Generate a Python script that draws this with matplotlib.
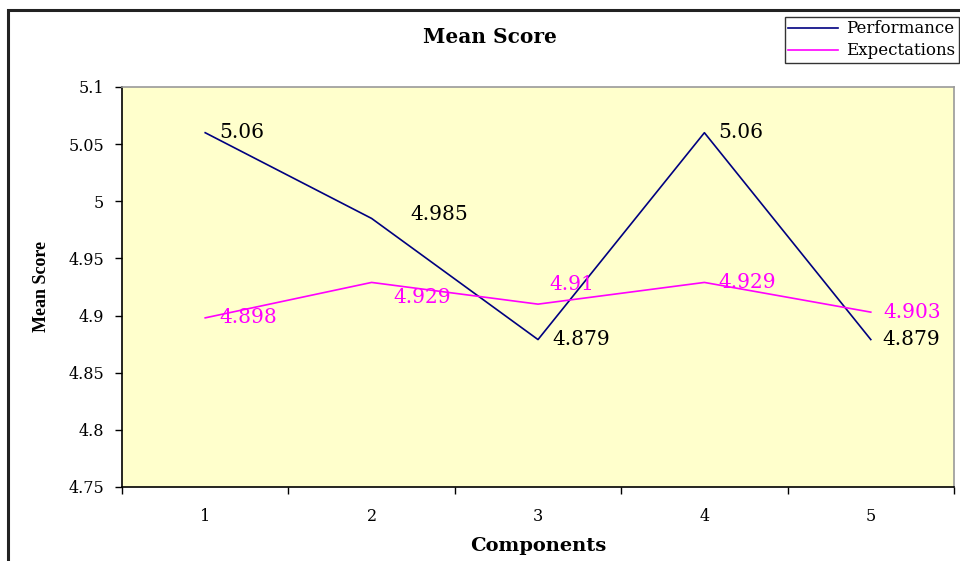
import matplotlib.pyplot as plt
from matplotlib.patches import Rectangle

components = [1, 2, 3, 4, 5]
performance = [5.06, 4.985, 4.879, 5.06, 4.879]
expectations = [4.898, 4.929, 4.91, 4.929, 4.903]
perf_labels = ['5.06', '4.985', '4.879', '5.06', '4.879']
exp_labels = ['4.898', '4.929', '4.91', '4.929', '4.903']
yticks = [4.75, 4.8, 4.85, 4.9, 4.95, 5.0, 5.05, 5.1]
ytick_labels = ['4.75', '4.8', '4.85', '4.9', '4.95', '5', '5.05', '5.1']

# the reference text is a wide serif, DejaVu Serif is the closest width
plt.rcParams['font.family'] = ['DejaVu Serif']

fig = plt.figure(figsize=(9.6, 5.61), dpi=100)
W, H = 960, 561
ax = fig.add_axes([122 / W, 1 - 487 / H, (954 - 122) / W, (487 - 87) / H])
ax.set_facecolor('#FFFFCC')

# outer chart frame (runs off the right and bottom edges)
fig.patches.append(Rectangle((8 / W, -0.1), 1.2, 1 - 10 / H + 0.1,
                             transform=fig.transFigure, fill=False,
                             edgecolor='#222222', linewidth=2.2))

ax.plot(components, performance, color='#000080', linewidth=1.2, label='Performance')
ax.plot(components, expectations, color='#FF00FF', linewidth=1.2, label='Expectations')

# data labels (offsets in points)
perf_off = [(10, 0), (28, 3), (10, 0), (10, 0), (8, 0)]
exp_off = [(10, 0), (16, -11), (8, 14), (10, 0), (9, 0)]
for x, y, t, o in zip(components, performance, perf_labels, perf_off):
    ax.annotate(t, (x, y), xytext=o, textcoords='offset points',
                ha='left', va='center', fontsize=14.5, color='black')
for x, y, t, o in zip(components, expectations, exp_labels, exp_off):
    ax.annotate(t, (x, y), xytext=o, textcoords='offset points',
                ha='left', va='center', fontsize=14.5, color='#FF00FF')

ax.set_xlim(0.5, 5.5)
ax.set_ylim(4.75, 5.1)
ax.set_yticks(yticks)
ax.set_yticklabels(ytick_labels, fontsize=11.5)
ax.set_xticks(components)
ax.set_xticklabels([str(c) for c in components], fontsize=11.5)
ax.set_xticks([0.5, 1.5, 2.5, 3.5, 4.5, 5.5], minor=True)
ax.tick_params(axis='x', which='major', length=0, pad=15)
ax.tick_params(axis='x', which='minor', length=5, direction='out', width=1)
ax.tick_params(axis='y', length=5, direction='out', width=1, pad=8)

for s in ['left', 'bottom']:
    ax.spines[s].set_color('black')
    ax.spines[s].set_linewidth(1.2)
for s in ['top', 'right']:
    ax.spines[s].set_color('#999999')
    ax.spines[s].set_linewidth(1.2)

ax.set_xlabel('Components', fontsize=14, fontweight='bold', labelpad=9)
ax.set_ylabel('Mean Score', fontsize=13, fontweight='bold', labelpad=13,
              family='Liberation Serif')
fig.text(490 / W, 1 - 37 / H, 'Mean Score', ha='center', va='center',
         fontsize=14.5, fontweight='bold')

leg = ax.legend(loc='upper right', bbox_to_anchor=(959 / W, 1 - 17 / H),
                bbox_transform=fig.transFigure, fontsize=12, frameon=True,
                fancybox=False, edgecolor='black', borderaxespad=0,
                handlelength=3.0, borderpad=0.2, labelspacing=0.3,
                handletextpad=0.5)
leg.get_frame().set_linewidth(1.0)

fig.savefig('out.png', dpi=100, facecolor='white')
